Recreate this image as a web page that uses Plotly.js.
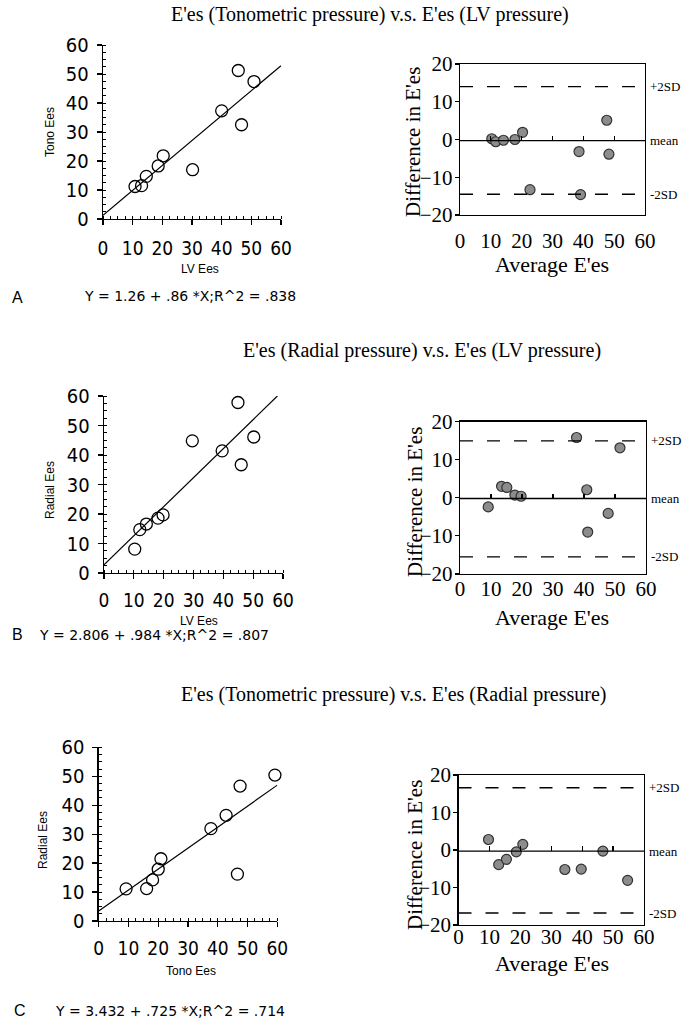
<!DOCTYPE html>
<html>
<head>
<meta charset="utf-8">
<script src="https://cdn.plot.ly/plotly-3.0.1.min.js"></script>
<style>html,body{margin:0;padding:0;background:#fff;}#chart{width:685px;height:1021px;}</style>
</head>
<body>
<div id="chart"></div>
<script>
// ---------- DATA ----------
const titles = [
  "E'es (Tonometric pressure) v.s. E'es (LV pressure)",
  "E'es (Radial pressure) v.s. E'es (LV pressure)",
  "E'es (Tonometric pressure) v.s. E'es (Radial pressure)"
];
const panelLetters = ["A", "B", "C"];
const equations = [
  "Y = 1.26 + .86 *X;R^2 = .838",
  "Y = 2.806 + .984 *X;R^2 = .807",
  "Y = 3.432 + .725 *X;R^2 = .714"
];
const scatterXTitles = ["LV Ees", "LV Ees", "Tono Ees"];
const scatterYTitles = ["Tono Ees", "Radial Ees", "Radial Ees"];
const intercepts = [1.26, 2.806, 3.432];
const slopes = [0.86, 0.984, 0.725];

// Panel A scatter
const aX = [10.8, 13.0, 14.6, 18.6, 20.3, 30.2, 40.0, 45.6, 46.7, 50.9];
const aY = [11.2, 11.5, 14.7, 18.3, 21.8, 17.0, 37.3, 51.2, 32.5, 47.4];
// Panel B scatter
const bX = [10.3, 12.0, 14.2, 18.1, 19.8, 29.6, 39.6, 44.9, 46.0, 50.2];
const bY = [8.1, 14.7, 16.6, 18.6, 19.7, 44.8, 41.4, 57.8, 36.7, 46.1];
// Panel C scatter
const cX = [9.2, 16.1, 18.1, 20.0, 20.9, 37.7, 42.8, 46.6, 47.5, 59.2];
const cY = [11.1, 11.2, 14.2, 17.9, 21.5, 31.9, 36.5, 16.2, 46.6, 50.4];

// Bland-Altman panels: average vs difference
const aAvg = [10.3, 11.6, 14.1, 17.8, 20.3, 22.7, 38.6, 39.1, 47.6, 48.3];
const aDiff = [0.2, -0.6, -0.2, 0.0, 1.9, -13.3, -3.2, -14.6, 5.1, -3.9];
const bAvg = [9.1, 13.4, 15.1, 17.7, 19.7, 37.6, 40.9, 41.2, 47.8, 51.6];
const bDiff = [-2.4, 3.0, 2.7, 0.7, 0.4, 15.8, 2.1, -9.0, -4.1, 13.1];
const cAvg = [9.7, 13.0, 15.5, 18.7, 20.8, 34.4, 39.7, 46.7, 54.7];
const cDiff = [2.8, -3.9, -2.5, -0.5, 1.5, -5.2, -5.1, -0.3, -8.1];

const meanDiffs = [-0.3, -0.2, -0.3];
const upperSD = [14.0, 14.9, 16.6];
const lowerSD = [-14.5, -15.5, -16.8];
const sdLabels = ["+2SD", "mean", "-2SD"];

const axisTicks = [0, 10, 20, 30, 40, 50, 60];
const diffTicks = [-20, -10, 0, 10, 20];
const meanTicks = [10, 20, 30, 40, 50];
const baXTitle = "Average E'es";
const baYTitle = "Difference in E'es";

// ---------- LAYOUT GEOMETRY (pixels) ----------
const W = 685, H = 1021;
const fx = p => p / W;
const fy = p => 1 - p / H;
const scatterBoxes = [
  {x0: 103, x1: 281, y0: 45, y1: 219},
  {x0: 104, x1: 283, y0: 396, y1: 573},
  {x0: 98.7, x1: 277.3, y0: 747.3, y1: 921}
];
const baBoxes = [
  {x0: 460, x1: 645, y0: 64, y1: 215},
  {x0: 460, x1: 646, y0: 421.5, y1: 574},
  {x0: 458.5, x1: 644, y0: 775, y1: 925}
];
const scatterTickStandoff = [7, 5, 5];
const baTickStandoff = [6, -5, -8];
const titlePos = [{x: 370, y: 14}, {x: 422, y: 351}, {x: 393, y: 694}];
const letterPos = [{x: 17, y: 297}, {x: 17, y: 634}, {x: 20, y: 1010}];
const eqPos = [{x: 82, y: 296}, {x: 37, y: 635}, {x: 53, y: 1011}];
const sxTitlePos = [{x: 200, y: 269}, {x: 199, y: 621}, {x: 191, y: 971}];
const syTitlePos = [{x: 50, y: 132}, {x: 50, y: 490}, {x: 43, y: 840}];
const bxTitlePos = [{x: 552, y: 265}, {x: 552, y: 617}, {x: 552, y: 963}];
const byTitlePos = [{x: 413, y: 142}, {x: 415, y: 502}, {x: 415, y: 855}];

const sansNarrow = "Liberation Sans Narrow, DejaVu Sans Condensed, Arial Narrow, sans-serif";
const sans = "Liberation Sans, Arial, sans-serif";
const wideSans = "DejaVu Sans, Verdana, sans-serif";
const serif = "Liberation Serif, DejaVu Serif, Times New Roman, serif";

const scatters = [[aX, aY], [bX, bY], [cX, cY]];
const bas = [[aAvg, aDiff], [bAvg, bDiff], [cAvg, cDiff]];

const data = [];
const layout = {
  width: W, height: H,
  margin: {l: 0, r: 0, t: 0, b: 0},
  paper_bgcolor: "#fff", plot_bgcolor: "rgba(0,0,0,0)",
  showlegend: false,
  shapes: [], annotations: []
};
function note(x, y, text, font, opts) {
  layout.annotations.push(Object.assign({
    xref: "paper", yref: "paper", x: fx(x), y: fy(y), xanchor: "center", yanchor: "middle",
    text: text, showarrow: false, font: font
  }, opts || {}));
}

for (let i = 0; i < 3; i++) {
  const sIdx = 2 * i + 1, bIdx = 2 * i + 2, tIdx = 7 + i;
  const sx = "x" + sIdx, sy = "y" + sIdx, bx = "x" + bIdx, by = "y" + bIdx;
  const sb = scatterBoxes[i], bb = baBoxes[i];
  const k = n => (n === 1 ? "" : n);

  // scatter points
  data.push({
    type: "scatter", mode: "markers", x: scatters[i][0], y: scatters[i][1],
    xaxis: sx, yaxis: sy, cliponaxis: false,
    marker: {symbol: "circle-open", size: 12, color: "#000", line: {width: 1.3, color: "#000"}}
  });
  // regression line
  const xEnd = Math.min(60, (60 - intercepts[i]) / slopes[i]);
  data.push({
    type: "scatter", mode: "lines", x: [0, xEnd],
    y: [intercepts[i], intercepts[i] + slopes[i] * xEnd],
    xaxis: sx, yaxis: sy, line: {color: "#000", width: 1.2}
  });
  // Bland-Altman points
  data.push({
    type: "scatter", mode: "markers", x: bas[i][0], y: bas[i][1],
    xaxis: bx, yaxis: by, cliponaxis: false,
    marker: {symbol: "circle", size: 10, color: "#8c8c8c", line: {width: 1.2, color: "#333"}}
  });

  const common = {
    range: [0, 60], fixedrange: true, showline: true, linecolor: "#000", linewidth: 1.3,
    showgrid: false, zeroline: false, tickvals: axisTicks, ticks: "outside", ticklen: 5,
    tickwidth: 1.2, tickcolor: "#000",
    minor: {ticks: "inside", ticklen: 3, dtick: 2.5, tickwidth: 1, tickcolor: "#000", showgrid: false},
    tickfont: {family: sansNarrow, size: 19, color: "#000"}
  };
  layout["xaxis" + k(sIdx)] = Object.assign({}, common, {
    domain: [fx(sb.x0), fx(sb.x1)], anchor: sy, ticklabelstandoff: scatterTickStandoff[i]
  });
  layout["yaxis" + k(sIdx)] = Object.assign({}, common, {
    domain: [fy(sb.y1), fy(sb.y0)], anchor: sx, ticklabelstandoff: 4,
    tickfont: {family: sansNarrow, size: 20, color: "#000"}
  });
  layout["xaxis" + bIdx] = {
    domain: [fx(bb.x0), fx(bb.x1)], anchor: by, range: [0, 60], fixedrange: true,
    showline: true, mirror: true, linecolor: "#000", linewidth: 1.3, showgrid: false, zeroline: false,
    tickvals: axisTicks, ticks: "", tickfont: {family: serif, size: 21, color: "#000"},
    ticklabelstandoff: baTickStandoff[i]
  };
  const baY = {
    domain: [fy(bb.y1), fy(bb.y0)], anchor: bx, range: [-20, 20], fixedrange: true,
    showline: true, mirror: true, linecolor: "#000", linewidth: 1.3, showgrid: false, zeroline: false,
    tickvals: diffTicks, ticks: "outside", ticklen: 4, tickwidth: 1.2, tickcolor: "#000",
    tickfont: {family: serif, size: 21, color: "#000"}, ticklabelstandoff: -2
  };
  layout["yaxis" + bIdx] = baY;

  // tick marks along the mean line
  const dom = baY.domain;
  const meanPos = dom[0] + (meanDiffs[i] + 20) / 40 * (dom[1] - dom[0]);
  layout["xaxis" + tIdx] = {
    overlaying: bx, anchor: "free", position: meanPos, side: "top", range: [0, 60],
    fixedrange: true, showline: false, showgrid: false, zeroline: false,
    tickvals: meanTicks, ticks: "outside", ticklen: 5, tickwidth: 1.2, tickcolor: "#000",
    showticklabels: false
  };
  data.push({type: "scatter", mode: "markers", x: [], y: [], xaxis: "x" + tIdx, yaxis: by, hoverinfo: "skip"});

  // mean and ±2SD lines
  layout.shapes.push({type: "line", xref: bx, yref: by, x0: 0, x1: 60, y0: meanDiffs[i], y1: meanDiffs[i],
    line: {color: "#000", width: 1.3}});
  [upperSD[i], lowerSD[i]].forEach(v => layout.shapes.push({
    type: "line", xref: bx, yref: by, x0: 0, x1: 60, y0: v, y1: v,
    line: {color: "#000", width: 1.3, dash: "13px,14px"}
  }));
  // right-side labels
  [upperSD[i], meanDiffs[i], lowerSD[i]].forEach((v, j) => layout.annotations.push({
    xref: "paper", yref: by, x: fx(bb.x1 + 3), y: v, xanchor: "left", yanchor: "middle",
    text: sdLabels[j], showarrow: false, font: {family: serif, size: 13, color: "#000"}
  }));

  // axis titles
  note(sxTitlePos[i].x, sxTitlePos[i].y, scatterXTitles[i], {family: sans, size: 12, color: "#000"});
  note(syTitlePos[i].x, syTitlePos[i].y, scatterYTitles[i], {family: sans, size: 12, color: "#000"}, {textangle: -90});
  note(bxTitlePos[i].x, bxTitlePos[i].y, baXTitle, {family: serif, size: 22, color: "#000"});
  note(byTitlePos[i].x, byTitlePos[i].y, baYTitle, {family: serif, size: 21, color: "#000"}, {textangle: -90});

  // panel title, letter, equation
  note(titlePos[i].x, titlePos[i].y, titles[i], {family: serif, size: 20, color: "#000"});
  note(letterPos[i].x, letterPos[i].y, panelLetters[i], {family: sans, size: 16, color: "#000"});
  note(eqPos[i].x, eqPos[i].y, equations[i], {family: wideSans, size: 14, color: "#000"}, {xanchor: "left"});
}

Plotly.newPlot("chart", data, layout, {displayModeBar: false, staticPlot: true});
</script>
</body>
</html>
